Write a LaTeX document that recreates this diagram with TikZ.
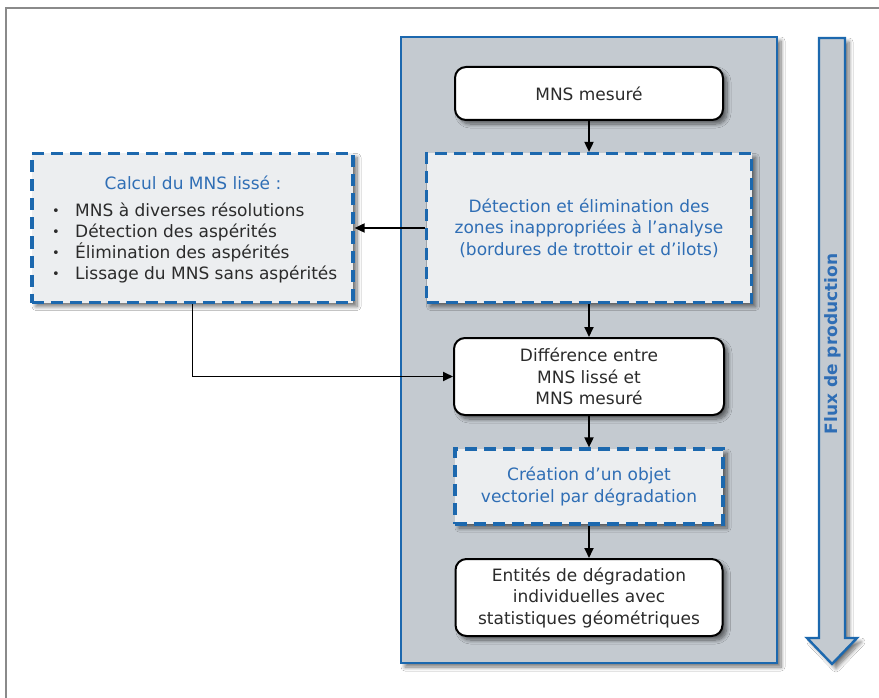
\documentclass[tikz,border=0pt]{standalone}
\usepackage{fontspec}
\setmainfont{DejaVu Sans}
\usetikzlibrary{arrows.meta,shadows.blur}
\definecolor{bblue}{HTML}{1C68AE}
\definecolor{tblue}{HTML}{2F6EB5}
\definecolor{panelc}{HTML}{C4CAD0}
\definecolor{dfill}{HTML}{ECEEF0}
\definecolor{tgray}{HTML}{2B2B2B}
\definecolor{framec}{HTML}{8A8A8A}
\newcommand{\blt}{\makebox[24pt][l]{\hspace{1pt}\raisebox{1pt}{\fontsize{13}{13}\selectfont•}}}
\tikzset{
  shad/.style={blur shadow={shadow xshift=4pt, shadow yshift=-4pt, shadow blur steps=8, shadow blur radius=4pt, shadow opacity=55}},
  txt/.style={font=\fontsize{17}{21.5}\selectfont, align=center},
  whitebox/.style={txt, shad, draw=black, line width=2pt, fill=white, rounded corners=11pt, text=tgray, inner sep=0pt},
  dashbox/.style={txt, shad, draw=bblue, line width=3.2pt, dash pattern=on 12pt off 7pt, fill=dfill, text=tblue, inner sep=0pt},
  panelbox/.style={shad, draw=bblue, line width=2.4pt, fill=panelc, inner sep=0pt},
  arr/.style={draw=black, line width=1.8pt, -{Triangle[length=10pt,width=9pt]}},
}
\begin{document}
\begin{tikzpicture}[x=1pt,y=-1pt]
\useasboundingbox (0,0) rectangle (879,698);
\fill[white] (0,0) rectangle (879,698);
\draw[framec, line width=1.8pt] (6,700) -- (6,8) -- (881,8);

% panel
\node[panelbox, minimum width=376pt, minimum height=626pt] (panel) at (589,350) {};

% production flow arrow
\draw[shad, draw=bblue, line width=2.4pt, fill=panelc, line join=miter]
  (819,38) -- (845,38) -- (845,638) -- (857,638) -- (832,664) -- (807,638) -- (819,638) -- cycle;
\node[rotate=90, text=tblue, font=\bfseries\fontsize{17}{19}\selectfont] (flux) at (833,344) {Flux de production};

% boxes
\node[whitebox, minimum width=268pt, minimum height=53pt] (mns) at (589,93.5) {MNS mesuré};
\node[dashbox, minimum width=325pt, minimum height=149pt] (det) at (589,228)
  {Détection et élimination des\\zones inappropriées à l’analyse\\(bordures de trottoir et d’ilots)};
\node[dashbox, minimum width=321pt, minimum height=149pt] (calc) at (192.5,228) {};
\node[text=tblue, font=\fontsize{17}{21.5}\selectfont] (calct) at (193,183) {Calcul du MNS lissé :};
\node[anchor=north west, text=tgray, font=\fontsize{17}{21}\selectfont, align=left, inner sep=0pt] (calcl) at (51,203)
  {\blt MNS à diverses résolutions\\
   \blt Détection des aspérités\\
   \blt Élimination des aspérités\\
   \blt Lissage du MNS sans aspérités};
\node[whitebox, minimum width=270pt, minimum height=77pt] (diff) at (589,376.5)
  {Différence entre\\MNS lissé et\\MNS mesuré};
\node[dashbox, minimum width=268pt, minimum height=75pt] (crea) at (589,486.5)
  {Création d’un objet\\vectoriel par dégradation};
\node[whitebox, minimum width=267pt, minimum height=77pt] (ent) at (589,597.5)
  {Entités de dégradation\\individuelles avec\\statistiques géométriques};

% connectors
\draw[arr] (mns) -- (det);
\draw[arr] (det) -- (diff);
\draw[arr] (diff) -- (crea);
\draw[arr] (crea) -- (ent);
\draw[arr] (det.west) -- (calc.east);
\draw[arr] (calc.south) |- (diff.west);
\end{tikzpicture}
\end{document}
